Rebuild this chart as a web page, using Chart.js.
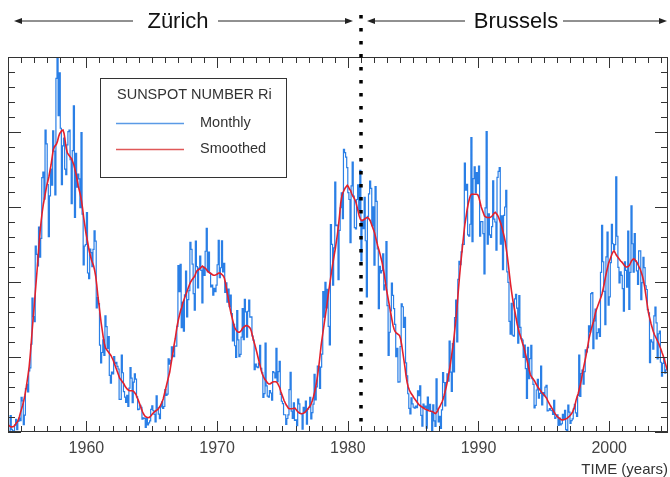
<!DOCTYPE html>
<html>
<head>
<meta charset="utf-8">
<script src="https://cdn.jsdelivr.net/npm/chart.js@4.4.0/dist/chart.umd.min.js"></script>
<style>
  html, body { margin: 0; padding: 0; background: #fff; }
  #wrap { width: 670px; height: 477px; }
</style>
</head>
<body>
<div id="wrap"><canvas id="myChart" width="670" height="477"></canvas></div>
<script>
// months start Jan 1954, one value per month
var startYear = 1954;

var monthly = [
  0.2, 0.5, 10.9, 1.8, 0.8, 0.2, 4.8, 8.4, 1.5, 7.0, 9.2, 7.6,                     // 1954
  23.1, 20.8, 4.9, 11.3, 28.9, 31.7, 26.7, 40.7, 42.7, 58.5, 89.2, 76.9,           // 1955
  73.6, 124.0, 118.4, 110.7, 136.6, 116.6, 129.1, 169.6, 173.2, 155.3, 201.3, 192.1,
  165.0, 130.2, 157.4, 175.2, 164.6, 200.7, 187.2, 158.0, 235.8, 253.8, 210.9, 239.4,
  202.5, 164.9, 190.7, 196.0, 175.3, 171.5, 191.4, 200.2, 201.2, 181.5, 152.3, 187.6,
  217.4, 143.1, 185.7, 163.3, 172.0, 168.7, 149.6, 199.6, 145.2, 111.4, 124.0, 125.0,
  146.3, 106.0, 102.2, 122.0, 119.6, 110.2, 121.7, 134.1, 127.2, 82.8, 89.6, 85.6, // 1960
  57.9, 46.1, 53.0, 61.4, 51.0, 77.4, 70.2, 55.8, 63.6, 37.7, 32.6, 39.9,
  38.7, 50.3, 45.6, 46.4, 43.7, 42.0, 21.8, 21.8, 51.3, 39.5, 26.9, 23.2,
  19.8, 24.4, 17.1, 29.3, 43.0, 35.9, 19.6, 33.2, 38.8, 35.3, 23.4, 14.9,
  15.3, 17.7, 16.5, 8.6, 9.5, 9.1, 3.1, 9.3, 4.7, 6.1, 7.4, 15.1,
  17.5, 14.2, 11.7, 6.8, 24.1, 15.9, 11.9, 8.9, 16.8, 20.1, 15.8, 17.0,
  28.2, 24.4, 25.3, 48.7, 45.3, 47.7, 56.7, 51.2, 50.2, 57.2, 57.2, 70.4,
  110.9, 93.6, 111.8, 69.5, 86.5, 67.3, 91.5, 107.2, 76.8, 88.2, 94.3, 126.4,
  121.8, 111.9, 92.2, 81.2, 127.2, 110.3, 96.1, 109.3, 117.2, 107.7, 86.0, 109.8,
  104.4, 120.5, 135.8, 106.8, 120.0, 106.0, 96.8, 98.0, 91.3, 95.7, 93.5, 97.9,
  111.5, 127.8, 102.9, 109.5, 127.5, 106.8, 112.5, 93.0, 99.5, 86.6, 95.2, 83.5,  // 1970
  91.3, 79.0, 60.7, 71.8, 57.5, 49.8, 81.0, 61.4, 50.2, 51.7, 63.2, 82.2,
  61.5, 88.4, 80.1, 63.2, 80.5, 88.0, 76.5, 76.8, 64.0, 61.3, 41.6, 45.3,
  43.4, 42.9, 46.0, 57.7, 42.4, 39.5, 23.1, 25.6, 59.3, 30.7, 23.9, 23.3,
  27.6, 26.0, 21.3, 40.3, 39.5, 36.0, 55.8, 33.6, 40.2, 47.1, 25.0, 20.5,
  18.9, 11.5, 11.5, 5.1, 9.0, 11.4, 28.2, 39.7, 13.9, 9.1, 19.4, 7.8,
  8.1, 4.3, 21.9, 18.8, 12.4, 12.2, 1.9, 16.4, 13.5, 20.6, 5.2, 15.3,
  16.4, 23.1, 8.7, 12.9, 18.6, 38.5, 21.4, 30.1, 44.0, 43.8, 29.1, 43.2,
  51.9, 93.6, 76.5, 99.7, 82.7, 95.1, 70.4, 58.1, 138.2, 125.1, 97.9, 122.7,
  166.6, 137.5, 138.0, 101.5, 134.4, 149.5, 159.4, 142.2, 188.4, 186.2, 183.3, 176.3,
  159.6, 155.0, 126.2, 164.1, 179.9, 157.3, 136.3, 135.4, 155.0, 164.7, 147.9, 174.4, // 1980
  114.0, 141.3, 135.5, 156.4, 127.5, 90.0, 143.8, 158.7, 167.3, 162.4, 137.5, 150.1,
  111.2, 163.6, 153.8, 122.0, 82.2, 110.4, 106.1, 107.6, 118.8, 94.7, 98.1, 127.0,
  84.3, 51.0, 66.5, 80.7, 99.2, 91.1, 82.2, 71.8, 50.3, 55.8, 33.3, 33.4,
  57.0, 85.4, 83.5, 69.7, 76.4, 46.1, 37.4, 25.5, 15.7, 12.0, 22.8, 18.7,
  16.5, 15.9, 17.2, 16.2, 27.5, 24.2, 30.7, 11.1, 3.9, 18.6, 16.2, 17.3,
  2.5, 23.2, 15.1, 18.5, 13.7, 1.1, 18.1, 7.4, 3.8, 35.4, 15.2, 6.8,
  10.4, 2.4, 14.7, 39.6, 33.0, 17.4, 33.0, 38.7, 33.9, 60.6, 39.9, 27.1,
  59.0, 40.0, 76.2, 88.0, 60.1, 101.8, 113.8, 111.6, 120.1, 125.1, 125.1, 179.2,
  161.3, 165.1, 131.4, 130.6, 138.5, 196.2, 126.9, 168.9, 176.7, 159.4, 173.0, 165.5,
  177.3, 130.5, 140.3, 140.3, 132.2, 105.4, 149.4, 200.3, 125.2, 145.5, 131.4, 129.7, // 1990
  136.9, 167.5, 141.9, 140.0, 121.3, 169.7, 173.7, 176.3, 125.3, 144.1, 108.2, 144.4,
  150.0, 161.1, 106.7, 99.8, 73.8, 65.2, 85.7, 64.5, 63.9, 88.7, 91.8, 82.6,
  59.3, 91.0, 69.8, 62.2, 61.3, 49.8, 57.9, 42.3, 22.4, 56.4, 35.6, 48.9,
  57.8, 35.5, 31.7, 16.1, 17.8, 28.0, 35.1, 22.5, 25.7, 44.0, 18.0, 26.2,
  24.2, 29.9, 31.1, 14.0, 14.5, 15.6, 14.5, 14.3, 11.8, 21.1, 9.0, 10.0,
  11.5, 4.4, 9.2, 4.8, 5.5, 11.8, 8.2, 14.4, 1.6, 0.9, 17.9, 13.3,
  5.7, 7.6, 8.7, 15.5, 18.5, 12.7, 10.4, 24.4, 51.3, 23.8, 39.0, 41.2,
  31.9, 40.3, 54.8, 53.4, 56.3, 70.7, 66.6, 92.2, 92.9, 55.5, 74.0, 81.9,
  62.0, 66.3, 68.8, 63.7, 106.4, 137.7, 113.5, 93.7, 71.5, 116.7, 133.2, 84.6,
  90.1, 112.9, 138.5, 125.5, 121.6, 124.9, 170.1, 130.5, 109.7, 99.4, 106.8, 104.4, // 2000
  95.6, 80.6, 113.5, 107.7, 96.6, 134.0, 81.8, 106.4, 150.7, 125.5, 106.5, 132.2,
  114.1, 107.4, 98.4, 120.7, 120.8, 88.3, 99.6, 116.4, 109.6, 97.5, 95.0, 81.6,
  79.5, 46.2, 61.5, 60.0, 55.2, 77.4, 83.3, 72.7, 48.7, 65.5, 67.3, 46.5,
  37.3, 45.8, 49.1, 39.3, 41.5, 43.2, 51.1
];

var smoothed = [
  4.6, 3.9, 3.5, 3.4, 3.5, 3.8, 4.7, 5.8, 6.7, 8.0, 10.3, 13.1,                    // 1954
  15.5, 17.9, 21.0, 24.5, 28.5, 33.5, 38.5, 44.0, 52.0, 61.0, 70.5, 79.0,
  88, 97, 106, 115, 125, 134, 141, 147, 152, 156, 160, 164,
  167, 170, 174, 178, 183, 188, 190, 191, 192, 194, 197, 199,
  200, 201, 201.3, 199, 194, 189, 186, 185, 184, 183, 182, 180,
  178, 175, 172, 168, 164, 161, 158, 154, 149, 143, 138, 133,
  129, 125, 121, 118, 115, 113, 111, 108, 104, 98, 91, 85,                         // 1960
  79, 73, 68, 63, 59, 56, 55, 54, 53, 52, 51, 49.5,
  48, 46, 44, 42, 40, 38, 36, 35, 34, 33, 32, 30.5,
  29.5, 28.5, 28, 27.5, 27.5, 27.5, 27.5, 27, 26, 25, 23, 21.4,
  19.5, 17.5, 15.5, 13.5, 12, 10.8, 10.2, 9.9, 9.7, 9.6, 10.2, 11,
  12, 12.8, 13.5, 14, 14.5, 15, 16, 17, 18.5, 20, 22, 25,
  28, 31, 34, 37, 40, 44.6, 49, 53, 58, 62, 67, 71.5,
  75, 78, 81, 83, 86, 88, 90, 92, 94, 96, 98, 99.7,
  101, 102, 103, 104, 106, 107.5, 108, 108.5, 109, 110, 110.6, 110,
  109.5, 109, 108, 107, 106.5, 106, 105.5, 105, 104.5, 104.5, 104.7, 105,
  105.5, 106, 106, 105.5, 105, 104.2, 103, 100, 96, 92, 88, 83.6,                  // 1970
  80, 77, 74, 71, 69, 67.9, 67, 66.5, 66.5, 67, 68, 69.3,
  70, 70.5, 71, 71, 70.5, 70, 69, 67, 64, 61, 58.5, 55.8,
  53, 50, 47, 44, 41, 38.7, 37, 35.5, 34.5, 33.5, 32.5, 32,
  32, 32.5, 33, 33.5, 33.5, 33.5, 33.3, 32.5, 31, 29.5, 27, 25,
  23, 21, 19.5, 18, 17, 15.8, 15.5, 15.5, 15.5, 15.6, 15.8, 15.9,
  15, 14, 13.2, 12.6, 12.3, 12.2, 12.3, 12.6, 13, 13.8, 14.6, 15.6,
  16.5, 17.5, 19, 21, 23.5, 26.5, 30, 34, 39, 44.5, 51, 57.7,
  63, 68, 73, 78, 83, 88.8, 94, 99, 104, 109, 113.5, 118,
  122, 127, 132, 138, 145, 152.8, 157, 159.5, 161, 162.5, 163.5, 164.5,
  163.5, 162, 161, 159, 157.5, 156.3, 155, 153, 150, 147, 144, 142,                // 1980
  141, 141, 141.5, 142, 142.5, 143, 143, 142, 141, 139, 137, 135,
  133, 130, 127, 124, 121.5, 118.9, 116, 113, 109, 105, 100, 95,
  91, 87, 83, 79, 75, 71.2, 68.5, 67, 66, 65.5, 65, 64.3,
  62, 58, 53, 48, 43, 37.2, 33, 30, 28, 26.5, 25.3, 24.3,
  23, 22, 21, 20, 19, 18, 17.5, 17, 16.5, 16, 15.5, 15.1,
  14.8, 14.5, 14.2, 14, 13.8, 13.7, 13.2, 12.7, 12.3, 13, 14.3, 15.8,
  17, 18.5, 20, 22, 24.5, 27.5, 30.5, 34, 38, 42, 47, 52,
  57, 63, 70, 77, 85, 94.4, 103, 111, 118, 125, 132, 138.5,
  143, 148, 152, 155, 157.5, 158.5, 158.5, 158.5, 158.5, 158.5, 158.5, 158,
  156, 153, 150, 148, 146, 144, 143.5, 143, 143, 143, 143, 143.4,                  // 1990
  144, 145, 146, 146.5, 145.5, 144.5, 143, 141, 139, 136.5, 133.5, 130.6,
  127, 122, 117, 111, 104.5, 98.3, 93, 88, 84, 80, 76, 72,
  69, 66, 64, 61.5, 59, 56.9, 54, 51, 48, 45, 41.5, 38.5,
  37, 36, 35, 34, 32.5, 31.3, 30, 29, 28, 27, 26, 25.3,
  24.5, 23.5, 22.5, 21, 19.5, 18.2, 17, 15.8, 14.6, 13.3, 12.1, 11,
  10.2, 9.5, 9, 8.5, 8.1, 8.1, 8.3, 8.5, 8.8, 9.3, 9.9, 10.5,
  11.3, 12.3, 13.6, 15.2, 17.5, 20.9, 23.5, 25.5, 28.5, 31.5, 35, 39.2,
  43, 46.5, 50, 54, 58, 62.4, 65.5, 68.5, 71, 73.5, 76.5, 79.9,
  82, 84, 86, 88, 90, 92.3, 95.5, 99, 103, 106.5, 109.5, 112.6,
  114.5, 116.5, 118.5, 120, 120.8, 119.5, 118, 117, 116, 115, 114, 113.4,          // 2000
  112.5, 111.5, 110.5, 110, 110, 110.4, 111, 112.5, 114, 115, 115.5, 115,
  114, 113, 111.5, 110, 108.5, 106.3, 104, 101, 97, 92, 87, 82.1,
  78, 75, 72, 69.5, 67, 65, 63.5, 62, 60.5, 59, 57, 55.2,
  53, 51, 48.5, 46, 43.5, 40.9
];

var decadeTicks = [1960, 1970, 1980, 1990, 2000];
var stationChange = 1981;
var seriesLabels = ['Monthly', 'Smoothed'];
var legendTitle = 'SUNSPOT NUMBER Ri';
var axisTitle = 'TIME (years)';

var FONT = "'Liberation Sans', Arial, Helvetica, sans-serif";

function toPoints(values) {
  return values.map(function (v, i) {
    return { x: startYear + (i + 0.5) / 12, y: v };
  });
}

// box, inward ticks on all four sides
var framePlugin = {
  id: 'frame',
  afterDatasetsDraw: function (chart) {
    var ctx = chart.ctx, a = chart.chartArea;
    var xs = chart.scales.x, ys = chart.scales.y;
    ctx.save();
    ctx.strokeStyle = '#333';
    ctx.lineWidth = 1;
    ctx.strokeRect(a.left + 0.5, a.top + 0.5, a.right - a.left - 1, a.bottom - a.top - 1);
    ctx.beginPath();
    for (var yr = Math.ceil(xs.min); yr <= xs.max; yr++) {
      var px = Math.round(xs.getPixelForValue(yr)) + 0.5;
      var len = yr % 10 === 0 ? 11 : 6;
      ctx.moveTo(px, a.bottom); ctx.lineTo(px, a.bottom - len);
      ctx.moveTo(px, a.top); ctx.lineTo(px, a.top + len);
    }
    for (var v = 0; v <= ys.max; v += 10) {
      var py = Math.round(ys.getPixelForValue(v)) + 0.5;
      var l = v % 50 === 0 ? 13 : 7;
      ctx.moveTo(a.left, py); ctx.lineTo(a.left + l, py);
      ctx.moveTo(a.right, py); ctx.lineTo(a.right - l, py);
    }
    ctx.stroke();
    ctx.restore();
  }
};

function arrow(ctx, from, to, y) {
  var dir = to > from ? 1 : -1;
  ctx.beginPath();
  ctx.moveTo(from, y); ctx.lineTo(to - dir * 6, y);
  ctx.stroke();
  ctx.beginPath();
  ctx.moveTo(to, y);
  ctx.lineTo(to - dir * 8, y - 3);
  ctx.lineTo(to - dir * 8, y + 3);
  ctx.closePath();
  ctx.fill();
}

// Zürich / Brussels header and the dotted divider
var stationPlugin = {
  id: 'stations',
  afterDatasetsDraw: function (chart) {
    var ctx = chart.ctx, a = chart.chartArea;
    var xd = Math.round(chart.scales.x.getPixelForValue(stationChange));
    ctx.save();
    ctx.strokeStyle = '#000';
    ctx.lineWidth = 3.5;
    ctx.setLineDash([3.5, 9.5]);
    ctx.beginPath();
    ctx.moveTo(xd, 15); ctx.lineTo(xd, a.bottom - 2);
    ctx.stroke();
    ctx.setLineDash([]);

    ctx.lineWidth = 1;
    ctx.strokeStyle = '#222';
    ctx.fillStyle = '#222';
    var y = 21;
    arrow(ctx, 133, 14, y);
    arrow(ctx, 218, xd - 8, y);
    arrow(ctx, 465, xd + 6, y);
    arrow(ctx, 563, 667, y);
    ctx.fillStyle = '#111';
    ctx.font = '22px ' + FONT;
    ctx.textAlign = 'center';
    ctx.textBaseline = 'middle';
    ctx.fillText('Zürich', 178, y + 1);
    ctx.fillText('Brussels', 516, y + 1);
    ctx.restore();
  }
};

var legendPlugin = {
  id: 'boxLegend',
  afterDatasetsDraw: function (chart) {
    var ctx = chart.ctx;
    ctx.save();
    ctx.fillStyle = '#fff';
    ctx.fillRect(100, 78, 186, 99);
    ctx.strokeStyle = '#333';
    ctx.lineWidth = 1;
    ctx.strokeRect(100.5, 78.5, 186, 99);
    ctx.font = '14.5px ' + FONT;
    ctx.fillStyle = '#333';
    ctx.textBaseline = 'middle';
    ctx.fillText(legendTitle, 117, 95);
    var rows = [123, 149];
    var sets = [chart.data.datasets[1], chart.data.datasets[0]];
    sets.forEach(function (ds, i) {
      ctx.strokeStyle = ds.legendColor;
      ctx.lineWidth = 1.3;
      ctx.beginPath();
      ctx.moveTo(116, rows[i] + 0.5); ctx.lineTo(184, rows[i] + 0.5);
      ctx.stroke();
      ctx.fillStyle = '#333';
      ctx.fillText(ds.label, 200, rows[i]);
    });
    ctx.restore();
  }
};

var ctx = document.getElementById('myChart').getContext('2d');
var myChart = new Chart(ctx, {
  type: 'line',
  data: {
    datasets: [{
      label: seriesLabels[1],
      data: toPoints(smoothed),
      borderColor: '#e3202c',
      legendColor: '#e05858',
      borderWidth: 1.6,
      pointRadius: 0,
      tension: 0,
      order: 0
    }, {
      label: seriesLabels[0],
      data: toPoints(monthly),
      borderColor: '#2a7fe6',
      legendColor: '#5a9ae6',
      borderWidth: 1.2,
      pointRadius: 0,
      stepped: 'middle',
      order: 1
    }]
  },
  options: {
    responsive: false,
    animation: false,
    devicePixelRatio: 1,
    layout: { padding: { left: 8, right: 2, top: 57, bottom: 0 } },
    plugins: { legend: { display: false }, tooltip: { enabled: false } },
    scales: {
      x: {
        type: 'linear',
        min: 1954,
        max: 2004.5,
        grid: { display: false, drawTicks: false },
        border: { display: false },
        afterBuildTicks: function (scale) {
          scale.ticks = decadeTicks.map(function (v) { return { value: v }; });
        },
        ticks: {
          padding: 9,
          autoSkip: false,
          maxRotation: 0,
          color: '#444',
          font: { family: FONT, size: 16, lineHeight: 1 },
          callback: function (v) { return String(v); }
        },
        title: {
          display: true,
          text: axisTitle,
          align: 'end',
          color: '#333',
          font: { family: FONT, size: 15, lineHeight: 1 },
          padding: { top: -4, bottom: 0 }
        }
      },
      y: {
        display: false,
        min: 0,
        max: 250
      }
    }
  },
  plugins: [framePlugin, legendPlugin, stationPlugin]
});
</script>
</body>
</html>
